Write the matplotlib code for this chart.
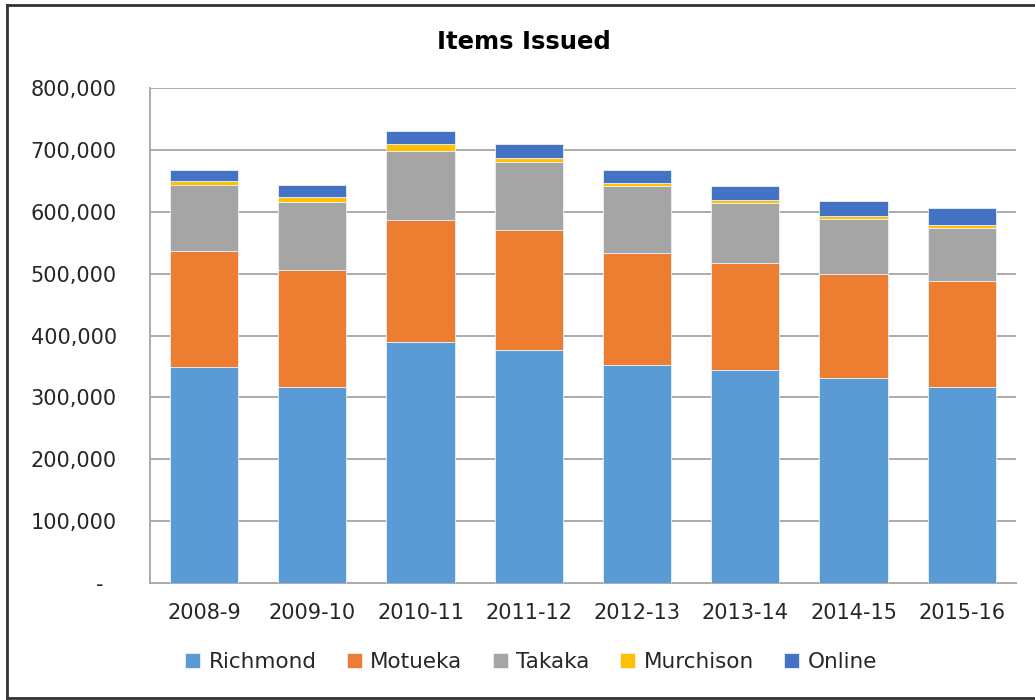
import matplotlib
matplotlib.use("Agg")
import matplotlib.pyplot as plt
from matplotlib.ticker import FuncFormatter
from matplotlib.lines import Line2D
import numpy as np

years = ["2008-9", "2009-10", "2010-11", "2011-12", "2012-13", "2013-14", "2014-15", "2015-16"]
richmond = [349500, 317200, 389000, 375800, 352200, 344600, 330600, 317200]
motueka = [186500, 189300, 198000, 195200, 181700, 173100, 168900, 171500]
takaka = [106500, 109500, 111400, 109000, 107000, 96300, 88100, 85500]
murchison = [8000, 7700, 10600, 7600, 4800, 5400, 4900, 4300]
online = [16200, 18800, 22000, 22100, 21000, 21500, 24200, 27400]

series_names = ["Richmond", "Motueka", "Takaka", "Murchison", "Online"]
series_colors = ["#5B9BD5", "#ED7D31", "#A5A5A5", "#FFC000", "#4472C4"]
y_ticks = [0, 100000, 200000, 300000, 400000, 500000, 600000, 700000, 800000]

plt.rcParams['font.family'] = ['DejaVu Sans']

fig = plt.figure(figsize=(10.35, 7.0), dpi=100)
ax = fig.add_axes([0.1449, 0.1671, 0.8367, 0.7072])

x = np.arange(len(years))
bottom = np.zeros(len(years))
for vals, name, col in zip([richmond, motueka, takaka, murchison, online], series_names, series_colors):
    ax.bar(x, vals, width=0.63, bottom=bottom, color=col, label=name,
           edgecolor="#EAF1FA", linewidth=0.6, zorder=3)
    bottom += np.array(vals)

ax.set_xlim(-0.5, len(years) - 0.5)
ax.set_ylim(0, 800000)
ax.set_yticks(y_ticks)
ax.yaxis.set_major_formatter(FuncFormatter(lambda v, p: "-  " if v == 0 else f"{int(v):,}"))
ax.set_xticks(x)
ax.set_xticklabels(years)
ax.tick_params(axis='both', length=0, labelsize=15, colors="#262626")
ax.tick_params(axis='x', pad=14.5)
ax.tick_params(axis='y', pad=24)
ax.grid(axis='y', color="#ABABAB", linewidth=1.4, zorder=0)
ax.set_axisbelow(True)
for s in ["top", "right"]:
    ax.spines[s].set_visible(False)
for s in ["left", "bottom"]:
    ax.spines[s].set_color("#ABABAB")
    ax.spines[s].set_linewidth(1.4)

fig.text(0.506, 0.94, "Items Issued", ha="center", va="center",
         fontsize=17.5, fontweight="bold", color="black")

handles, labels = ax.get_legend_handles_labels()
fig.legend(handles, labels, loc="center", bbox_to_anchor=(0.513, 0.054), ncol=5,
           frameon=False, fontsize=15.5, handlelength=0.7, handleheight=0.7,
           handletextpad=0.4, columnspacing=1.4, labelcolor="#262626")

# outer chart border
fig.add_artist(Line2D([0.0068, 0.0068], [0.003, 0.993], transform=fig.transFigure, color="#333333", lw=2))
fig.add_artist(Line2D([0.0068, 1.0], [0.993, 0.993], transform=fig.transFigure, color="#333333", lw=2))
fig.add_artist(Line2D([0.0068, 1.0], [0.003, 0.003], transform=fig.transFigure, color="#333333", lw=2))

fig.savefig("out.png", dpi=100, facecolor="white")
